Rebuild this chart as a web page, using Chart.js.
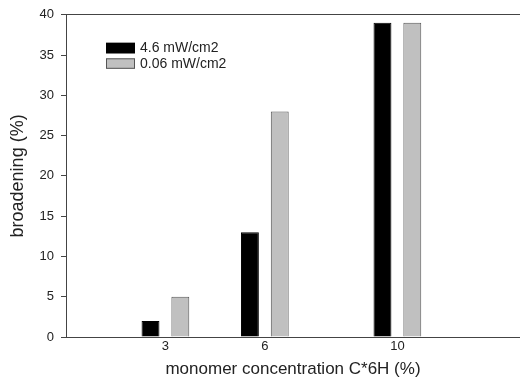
<!DOCTYPE html>
<html>
<head>
<meta charset="utf-8">
<script src="https://cdn.jsdelivr.net/npm/chart.js@4/dist/chart.umd.min.js"></script>
<style>
  html, body { margin: 0; padding: 0; background: #fff; }
  #wrap { width: 520px; height: 378px; }
</style>
</head>
<body>
<div id="wrap"><canvas id="chart" width="520" height="378"></canvas></div>
<script>
const concentrations = [3, 6, 10];
const highIntensity = [2, 13, 39];   // 4.6 mW/cm2
const lowIntensity = [5, 28, 39];    // 0.06 mW/cm2
const seriesLabels = ["4.6 mW/cm2", "0.06 mW/cm2"];
const yTicks = [0, 5, 10, 15, 20, 25, 30, 35, 40];

const FONT = "'Liberation Sans', Arial, Helvetica, sans-serif";
const AXIS = "#444";

const toPoints = (vals) => concentrations.map((c, i) => ({ x: c, y: vals[i] }));

// little legend drawn inside the plot, upper left
const boxLegend = {
  id: "boxLegend",
  afterDraw(chart) {
    const ctx = chart.ctx;
    const a = chart.chartArea;
    ctx.save();
    chart.data.datasets.forEach((ds, i) => {
      const x = a.left + 40, y = a.top + 28 + i * 15.5;
      ctx.fillStyle = ds.backgroundColor;
      ctx.fillRect(x, y, 29, 10.5);
      ctx.strokeStyle = ds.borderColor;
      ctx.lineWidth = 1;
      ctx.strokeRect(x + 0.5, y + 0.5, 28, 9.5);
      ctx.fillStyle = "#222";
      ctx.font = "14px " + FONT;
      ctx.textBaseline = "middle";
      ctx.fillText(ds.label, x + 34, y + 5.5);
    });
    ctx.restore();
  }
};

new Chart(document.getElementById("chart"), {
  type: "bar",
  data: {
    datasets: [
      { label: seriesLabels[0], data: toPoints(highIntensity),
        backgroundColor: "#000", borderColor: "#000", borderWidth: 1 },
      { label: seriesLabels[1], data: toPoints(lowIntensity),
        backgroundColor: "#c0c0c0", borderColor: "#555", borderWidth: 1 }
    ]
  },
  options: {
    responsive: false,
    animation: false,
    categoryPercentage: 0.6,
    barPercentage: 0.6,
    layout: { padding: { left: 0, right: 0, top: 14, bottom: 0 } },
    plugins: { legend: { display: false }, tooltip: { enabled: false } },
    scales: {
      x: {
        type: "linear",
        min: 0,
        max: 13.7,
        offset: false,
        afterBuildTicks: (s) => { s.ticks = concentrations.map(v => ({ value: v })); },
        afterFit: (s) => { s.height = 41; },
        grid: { display: false, drawTicks: false },
        border: { display: true, color: AXIS, width: 1 },
        ticks: { color: "#222", font: { family: FONT, size: 13 }, padding: 2, maxRotation: 0 },
        title: { display: true, text: "monomer concentration C*6H (%)", color: "#222",
                 font: { family: FONT, size: 17, lineHeight: 1 }, padding: { top: 0, bottom: 0 } }
      },
      top: {
        type: "linear",
        position: "top",
        min: 0,
        max: 13.7,
        grid: { display: false, drawTicks: false },
        ticks: { display: false },
        border: { display: true, color: AXIS, width: 1 }
      },
      y: {
        min: 0,
        max: 40,
        afterBuildTicks: (s) => { s.ticks = yTicks.map(v => ({ value: v })); },
        afterFit: (s) => { s.width = 66; },
        grid: { display: true, drawOnChartArea: false, drawTicks: true, tickLength: 5, color: AXIS },
        border: { display: true, color: AXIS, width: 1 },
        ticks: { color: "#222", font: { family: FONT, size: 13 }, padding: 7 },
        title: { display: true, text: "broadening (%)", color: "#222",
                 font: { family: FONT, size: 18, lineHeight: 1.2 }, padding: { top: 7, bottom: 0 } }
      }
    }
  },
  plugins: [boxLegend]
});
</script>
</body>
</html>
